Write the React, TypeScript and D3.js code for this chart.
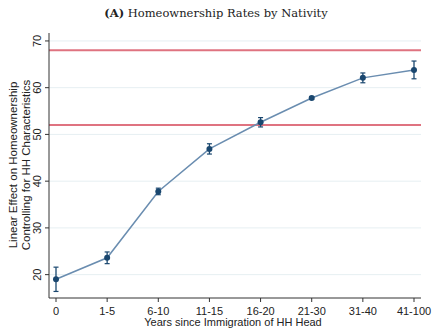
import React from 'react'
import * as d3 from 'd3'

const categories = ['0', '1-5', '6-10', '11-15', '16-20', '21-30', '31-40', '41-100']
const estimates = [19.0, 23.6, 37.8, 46.9, 52.6, 57.8, 62.1, 63.8]
const errors = [2.6, 1.25, 0.7, 1.1, 1.0, 0.3, 1.05, 1.9]
const yTicks = [20, 30, 40, 50, 60, 70]
const refLines = [68, 52]

const width = 433
const height = 328
const margin = { top: 33, right: 12, bottom: 30, left: 49 }
const plotW = width - margin.left - margin.right
const plotH = height - margin.top - margin.bottom

const navy = '#1a476f'

export default function App() {
	const x = d3
		.scalePoint<string>()
		.domain(categories)
		.range([7, plotW - 7])
	const y = d3.scaleLinear().domain([15, 71.7]).range([plotH, 0])

	const data = categories.map((c, i) => ({ c, v: estimates[i], e: errors[i] }))
	const line = d3
		.line<{ c: string; v: number }>()
		.x(d => x(d.c) as number)
		.y(d => y(d.v))

	return (
		<svg
			width={width}
			height={height}
			style={{ position: 'absolute', left: 0, top: 0, background: 'white' }}
			fontFamily="'Liberation Sans', Arial, sans-serif"
		>
			<text x={216} y={17} textAnchor="middle" fontFamily="'DejaVu Serif', 'Liberation Serif', serif" fontSize={11.5} fill="#222">
				<tspan fontWeight="bold">(A)</tspan> Homeownership Rates by Nativity
			</text>
			<g transform={`translate(${margin.left},${margin.top})`}>
				{yTicks.map(t => (
					<g key={t} transform={`translate(0,${y(t)})`}>
						<line x1={0} x2={plotW} stroke="#e6eff2" strokeWidth={1} />
						<line x1={-4} x2={0} stroke="#333" />
						<text transform="translate(-8,0) rotate(-90)" textAnchor="middle" fontSize={11} fill="#222">
							{t}
						</text>
					</g>
				))}
				{refLines.map(r => (
					<line key={r} x1={0} x2={plotW} y1={y(r)} y2={y(r)} stroke="#df7380" strokeWidth={2} />
				))}
				<path d={line(data) || ''} fill="none" stroke="#6a8db0" strokeWidth={1.5} />
				{data.map(d => {
					const cx = x(d.c) as number
					return (
						<g key={d.c}>
							<line x1={cx} x2={cx} y1={y(d.v + d.e)} y2={y(d.v - d.e)} stroke={navy} strokeWidth={1.3} />
							<line x1={cx - 2.5} x2={cx + 2.5} y1={y(d.v + d.e)} y2={y(d.v + d.e)} stroke={navy} strokeWidth={1.2} />
							<line x1={cx - 2.5} x2={cx + 2.5} y1={y(d.v - d.e)} y2={y(d.v - d.e)} stroke={navy} strokeWidth={1.2} />
							<circle cx={cx} cy={y(d.v)} r={3} fill={navy} />
						</g>
					)
				})}
				<line x1={0} x2={0} y1={0} y2={plotH} stroke="#333" />
				<line x1={0} x2={plotW} y1={plotH} y2={plotH} stroke="#333" />
				{categories.map(c => (
					<g key={c} transform={`translate(${x(c)},${plotH})`}>
						<line y1={0} y2={4} stroke="#333" />
						<text y={17} textAnchor="middle" fontSize={11} fill="#222">
							{c}
						</text>
					</g>
				))}
				<text x={184} y={plotH + 28} textAnchor="middle" fontSize={11} fill="#222">
					Years since Immigration of HH Head
				</text>
			</g>
			<text transform="translate(17,165) rotate(-90)" textAnchor="middle" fontSize={11.5} fill="#222">
				Linear Effect on Homeownership
			</text>
			<text transform="translate(30,165) rotate(-90)" textAnchor="middle" fontSize={11.5} fill="#222">
				Controlling for HH Characteristics
			</text>
		</svg>
	)
}
